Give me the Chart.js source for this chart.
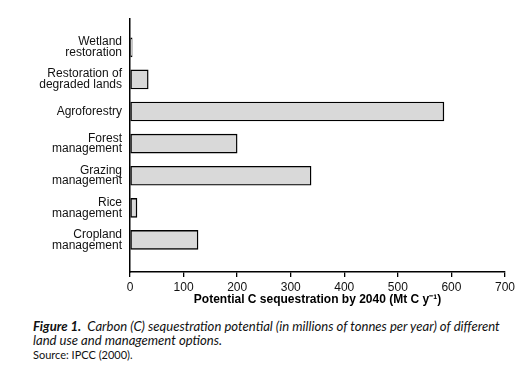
<!DOCTYPE html>
<html>
<head>
<meta charset="utf-8">
<script src="https://cdn.jsdelivr.net/npm/chart.js@4"></script>
<style>
  body { margin: 0; background: #fff; }
  #wrap { position: relative; width: 530px; height: 370px; background: #fff; }
  #c { position: absolute; left: 0; top: 0; }
  .cap { position: absolute; left: 33px; font-family: "Lato", "Open Sans", sans-serif; color: #111; white-space: nowrap; }
  #caption { top: 319px; font-size: 13.1px; line-height: 14.3px; font-style: italic; }
  #source { top: 349px; font-size: 11px; line-height: 12px; }
</style>
</head>
<body>
<div id="wrap">
  <canvas id="c" width="530" height="310"></canvas>
  <div class="cap" id="caption"><b>Figure 1.</b>&nbsp; Carbon (C) sequestration potential (in millions of tonnes per year) of different<br>land use and management options.</div>
  <div class="cap" id="source">Source: IPCC (2000).</div>
</div>
<script>
// categories, top to bottom
const categoryLines = [
  ["Wetland", "restoration"],
  ["Restoration of", "degraded lands"],
  ["Agroforestry"],
  ["Forest", "management"],
  ["Grazing", "management"],
  ["Rice", "management"],
  ["Cropland", "management"]
];
// Mt C per year
const sequestration = [4, 34, 586, 200, 338, 13, 127];
const xTicks = [0, 100, 200, 300, 400, 500, 600, 700];
const xTitle = "Potential C sequestration by 2040 (Mt C y\u207B\u00B9)";

const points = sequestration.map((v, i) => ({ x: v, y: i }));

new Chart(document.getElementById("c").getContext("2d"), {
  type: "bar",
  data: {
    datasets: [{
      data: points,
      backgroundColor: "#d9d9d9",
      borderColor: "#000",
      borderWidth: 1.4,
      borderSkipped: false,
      barThickness: 19
    }]
  },
  options: {
    indexAxis: "y",
    responsive: false,
    animation: false,
    devicePixelRatio: 1,
    layout: { padding: { top: 17, right: 25, left: 0, bottom: 0 } },
    plugins: { legend: { display: false }, tooltip: { enabled: false } },
    scales: {
      y: {
        type: "linear",
        reverse: true,
        offset: false,
        min: -0.89,
        max: 7,
        grid: { display: false, drawTicks: false },
        border: { display: true, color: "#000", width: 1.5 },
        afterBuildTicks: (scale) => {
          scale.ticks = categoryLines.map((_, i) => ({ value: i }));
        },
        afterFit: (scale) => { scale.width = 130; },
        ticks: {
          color: "#111",
          padding: 8,
          font: { family: "Liberation Sans, Arial, sans-serif", size: 12, lineHeight: 0.9 },
          callback: (v) => categoryLines[v] || ""
        }
      },
      x: {
        type: "linear",
        min: 0,
        max: 700,
        afterBuildTicks: (scale) => {
          scale.ticks = xTicks.map(v => ({ value: v }));
        },
        afterFit: (scale) => { scale.height = 310 - 272; },
        grid: { drawOnChartArea: false, drawTicks: true, tickLength: 5, color: "#000", lineWidth: 1.3 },
        border: { display: true, color: "#000", width: 1.5 },
        ticks: {
          color: "#111",
          padding: 3,
          maxRotation: 0,
          font: { family: "Liberation Sans, Arial, sans-serif", size: 12 }
        },
        title: {
          display: true,
          text: xTitle,
          color: "#000",
          padding: { top: 2, bottom: 3 },
          font: { family: "Liberation Sans, Arial, sans-serif", size: 12, weight: "bold" }
        }
      }
    }
  }
});
</script>
</body>
</html>
